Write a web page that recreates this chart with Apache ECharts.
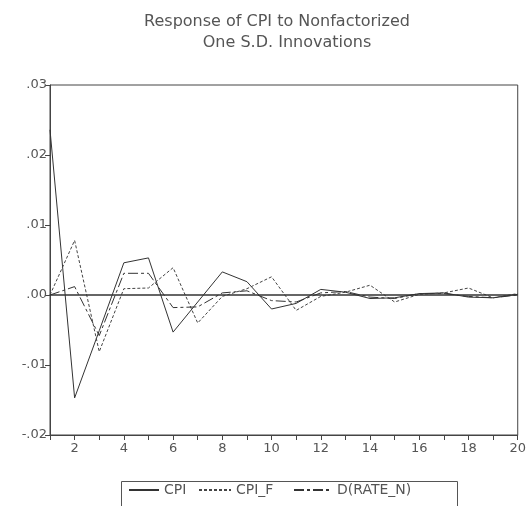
<!DOCTYPE html>
<html>
<head>
<meta charset="utf-8">
<script src="https://cdn.jsdelivr.net/npm/echarts@6/dist/echarts.min.js"></script>
<style>
html,body{margin:0;padding:0;background:#fff;}
#chart{width:529px;height:506px;}
</style>
</head>
<body>
<div id="chart"></div>
<script>
var periods = [1,2,3,4,5,6,7,8,9,10,11,12,13,14,15,16,17,18,19,20];
var cpi   = [0.0236,-0.0147,-0.0051,0.0046,0.0053,-0.0053,-0.0010,0.0033,0.0019,-0.0020,-0.0012,0.0008,0.0004,-0.0005,-0.0004,0.0002,0.0003,-0.0003,-0.0004,0.0001];
var cpiF  = [0.0000,0.0078,-0.0081,0.0009,0.0010,0.0039,-0.0040,-0.0002,0.0009,0.0026,-0.0022,-0.0002,0.0004,0.0014,-0.0010,0.0001,0.0003,0.0010,-0.0004,0.0002];
var rateN = [0.0000,0.0012,-0.0058,0.0031,0.0031,-0.0018,-0.0017,0.0003,0.0006,-0.0008,-0.0010,0.0003,0.0005,-0.0003,-0.0005,0.0002,0.0002,-0.0002,-0.0004,0.0000];
var seriesNames = ['CPI','CPI_F','D(RATE_N)'];
var titleLines = ['Response of CPI to Nonfactorized','One S.D. Innovations'];

function pairs(v){ return periods.map(function(p,i){ return [p, v[i]]; }); }

var chart = echarts.init(document.getElementById('chart'), null, {renderer:'canvas'});
var textColor = '#555';
var lineColor = '#444';
var font = 'DejaVu Sans, sans-serif';

var legendLefts = [128, 198, 293];
var legendIconW = [30, 32, 38];
function legendFor(i){
  return {
    data:[seriesNames[i]], left:legendLefts[i], top:483, orient:'horizontal',
    padding:0, itemWidth:legendIconW[i], itemHeight:14,
    itemStyle:{opacity:0},
    textStyle:{color:textColor, fontSize:14, fontFamily:font}
  };
}

chart.setOption({
  animation:false,
  backgroundColor:'#fff',
  graphic:[
    {type:'text', x:277, y:22, style:{text:titleLines[0], fill:textColor, font:'16px DejaVu Sans, sans-serif', textAlign:'center', textVerticalAlign:'middle'}},
    {type:'text', x:287, y:43, style:{text:titleLines[1], fill:textColor, font:'16px DejaVu Sans, sans-serif', textAlign:'center', textVerticalAlign:'middle'}},
    {type:'rect', shape:{x:121.5, y:481.5, width:336, height:40}, style:{fill:'none', stroke:'#555', lineWidth:1}, silent:true}
  ],
  grid:{left:50, right:5, top:85, bottom:71, show:true, borderColor:lineColor, borderWidth:1, backgroundColor:'transparent'},
  legend:[legendFor(0), legendFor(1), legendFor(2)],
  xAxis:{
    type:'value', min:1, max:20, interval:1,
    axisLine:{onZero:false, lineStyle:{color:lineColor}},
    axisTick:{show:true, length:5, inside:false, lineStyle:{color:lineColor}},
    splitLine:{show:false},
    axisLabel:{color:textColor, fontSize:13, fontFamily:font, margin:7,
      formatter:function(v){ return (v % 2 === 0) ? String(v) : ''; }, showMinLabel:true, showMaxLabel:true}
  },
  yAxis:{
    type:'value', min:-0.02, max:0.03, interval:0.01,
    axisLine:{show:true, onZero:false, lineStyle:{color:lineColor}},
    axisTick:{show:true, length:5, lineStyle:{color:lineColor}},
    splitLine:{show:false},
    axisLabel:{color:textColor, fontSize:13, fontFamily:font, margin:3,
      formatter:function(v){ var s = Math.abs(v).toFixed(2).replace(/^0/, ''); return (v < -1e-9 ? '-' : '') + s; }}
  },
  series:[
    {name:seriesNames[0], type:'line', data:pairs(cpi), symbol:'none', showSymbol:false,
      lineStyle:{color:'#333', width:1, type:'solid'}, itemStyle:{color:'#333'},
      markLine:{silent:true, symbol:['none','none'], label:{show:false},
        lineStyle:{color:'#333', width:1.5, type:'solid'}, data:[{yAxis:0}]}},
    {name:seriesNames[1], type:'line', data:pairs(cpiF), symbol:'none', showSymbol:false,
      lineStyle:{color:'#444', width:1, type:[3,2]}, itemStyle:{color:'#444'}},
    {name:seriesNames[2], type:'line', data:pairs(rateN), symbol:'none', showSymbol:false,
      lineStyle:{color:'#333', width:1, type:[10,3,3,3]}, itemStyle:{color:'#333'}}
  ]
});
</script>
</body>
</html>
